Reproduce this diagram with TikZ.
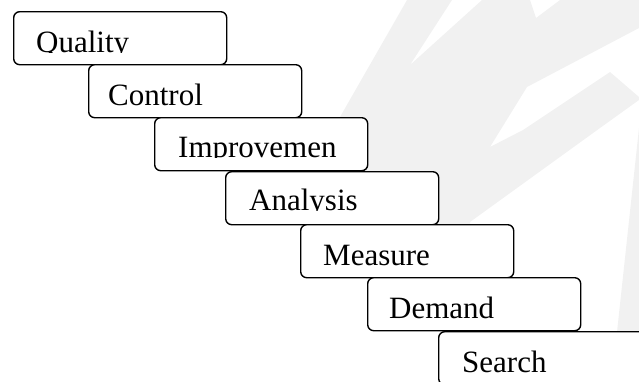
\documentclass[tikz,border=0pt]{standalone}
\usepackage{fontspec}
\setmainfont{Liberation Serif}
\definecolor{wm}{RGB}{241,241,241}
\begin{document}
\begin{tikzpicture}[x=1pt,y=-1pt,
  stepbox/.style={draw=black, line width=1.4pt, fill=white, rounded corners=6pt,
    minimum width=213pt, minimum height=53pt, inner sep=0pt, anchor=north west},
  lbl/.style={font=\fontsize{31}{31}\selectfont, inner sep=0pt, anchor=base west}]
\useasboundingbox (0,0) rectangle (639,381);
\clip (0,0) rectangle (639,381);
% watermark
\fill[wm] (407,0) -- (452,0) -- (410,65) -- (482,0) -- (530,0) -- (536,18) -- (560,0)
  -- (639,0) -- (639,28) -- (527,87) -- (490,147) -- (523,130) -- (610,72)
  -- (639,97) -- (639,100) -- (600,128) -- (470,222) -- (470,235) -- (330,235)
  -- (300,200) -- (340,117) -- cycle;
\fill[wm] (639,128) -- (628,230) -- (617,332) -- (639,332) -- cycle;
% boxes
\node[stepbox] (b1) at (13,11) {};
\node[stepbox] (b2) at (88,64) {};
\node[stepbox] (b3) at (154,117) {};
\node[stepbox] (b4) at (225,171) {};
\node[stepbox] (b5) at (300,224) {};
\node[stepbox] (b6) at (367,277) {};
\node[stepbox] (b7) at (438,331) {};
% labels (clipped at the baseline)
\begin{scope}\clip (13,11) rectangle (226,52.3);
\node[lbl] (t1) at (36,52.5) {Quality};\end{scope}
\begin{scope}\clip (88,64) rectangle (299,106);
\node[lbl] (t2) at (108,105) {Control};\end{scope}
\begin{scope}\clip (154,117) rectangle (367,157.3);
\node[lbl] (t3) at (178,157) {Improvemen};\end{scope}
\begin{scope}\clip (225,171) rectangle (438,210.3);
\node[lbl] (t4) at (249,210) {Analysis};\end{scope}
\begin{scope}\clip (300,224) rectangle (512,266);
\node[lbl] (t5) at (323,265) {Measure};\end{scope}
\begin{scope}\clip (367,277) rectangle (579,319);
\node[lbl] (t6) at (389,318) {Demand};\end{scope}
\begin{scope}\clip (438,331) rectangle (639,373);
\node[lbl] (t7) at (462,372) {Search};\end{scope}
\end{tikzpicture}
\end{document}
